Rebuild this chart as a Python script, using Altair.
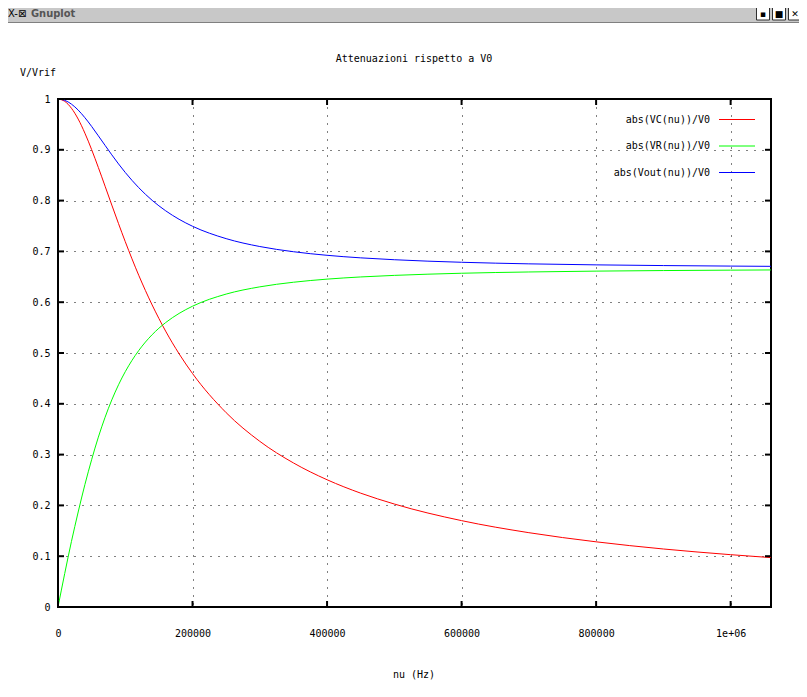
import altair as alt
import pandas as pd

# ---- data ----
nu = [0, 10000, 20000, 30000, 40000, 50000, 60000, 70000, 80000, 90000, 100000,
      120000, 140000, 160000, 180000, 200000, 250000, 300000, 350000, 400000,
      450000, 500000, 600000, 700000, 800000, 900000, 1000000, 1060000]
vc = [1.0, 0.9954, 0.9818, 0.9605, 0.9327, 0.9004, 0.8651, 0.8283, 0.7912, 0.7546, 0.7192,
      0.6531, 0.5945, 0.5431, 0.4985, 0.4596, 0.3825, 0.3261, 0.2836, 0.2505,
      0.2241, 0.2027, 0.1700, 0.1463, 0.1283, 0.1142, 0.1030, 0.0972]
vr = [0.0, 0.0660, 0.1290, 0.1870, 0.2410, 0.2900, 0.3344, 0.3735, 0.4077, 0.4375, 0.4632,
      0.5048, 0.5361, 0.5598, 0.5779, 0.5921, 0.6160, 0.6302, 0.6393, 0.6454,
      0.6497, 0.6528, 0.6570, 0.6595, 0.6612, 0.6623, 0.6631, 0.6635]
vout = [1.0, 0.9974, 0.9899, 0.9782, 0.9632, 0.9460, 0.9275, 0.9087, 0.8901, 0.8722, 0.8554,
        0.8255, 0.8005, 0.7800, 0.7632, 0.7495, 0.7251, 0.7096, 0.6994, 0.6923,
        0.6873, 0.6836, 0.6786, 0.6755, 0.6735, 0.6721, 0.6711, 0.6706]

series = ["abs(VC(nu))/V0", "abs(VR(nu))/V0", "abs(Vout(nu))/V0"]
colors = ["#ff0000", "#00ff00", "#0000ff"]
x_ticks = [0, 200000, 400000, 600000, 800000, 1000000]
y_ticks = [0, 0.1, 0.2, 0.3, 0.4, 0.5, 0.6, 0.7, 0.8, 0.9, 1]

title_text = "Attenuazioni rispetto a V0"
y_title = "V/Vrif"
x_title = "nu (Hz)"

rows = []
for s, vals in zip(series, [vc, vr, vout]):
    for n, v in zip(nu, vals):
        rows.append({"nu": n, "v": v, "series": s})
df = pd.DataFrame(rows)

W, H = 713, 508
FONT = "DejaVu Sans Mono"
xscale = alt.Scale(domain=[0, 1060000], nice=False, zero=False)
yscale = alt.Scale(domain=[0, 1], nice=False, zero=False)
cscale = alt.Scale(domain=series, range=colors)

lines = alt.Chart(df).mark_line(strokeWidth=1, interpolate="monotone", clip=True).encode(
    x=alt.X("nu:Q", scale=xscale, axis=alt.Axis(
        values=x_ticks, grid=True, gridDash=[1, 7], gridColor="black", gridOpacity=1,
        gridWidth=1, ticks=False, domain=False, labelFont=FONT, labelFontSize=10,
        labelColor="black", labelPadding=21, labelFlush=False, labelOverlap=False,
        labelExpr="datum.value == 1000000 ? '1e+06' : format(datum.value, 'd')",
        title=None)),
    y=alt.Y("v:Q", scale=yscale, axis=alt.Axis(
        values=y_ticks, grid=True, gridDash=[1, 7], gridColor="black", gridOpacity=1,
        gridWidth=1, ticks=False, domain=False, labelFont=FONT, labelFontSize=10,
        labelColor="black", labelPadding=8, format="~g", labelOverlap=False,
        title=None)),
    color=alt.Color("series:N", scale=cscale, legend=None),
)

xt = pd.DataFrame({"nu": x_ticks})
yt = pd.DataFrame({"v": y_ticks})
tick_bottom = alt.Chart(xt).mark_rule(color="black", strokeWidth=2).encode(
    x=alt.X("nu:Q", scale=xscale), y=alt.value(H), y2=alt.value(H - 6))
tick_top = alt.Chart(xt).mark_rule(color="black", strokeWidth=2).encode(
    x=alt.X("nu:Q", scale=xscale), y=alt.value(0), y2=alt.value(6))
tick_left = alt.Chart(yt).mark_rule(color="black", strokeWidth=2).encode(
    y=alt.Y("v:Q", scale=yscale, axis=None), x=alt.value(0), x2=alt.value(6))
tick_right = alt.Chart(yt).mark_rule(color="black", strokeWidth=2).encode(
    y=alt.Y("v:Q", scale=yscale, axis=None), x=alt.value(W), x2=alt.value(W - 6))

one = pd.DataFrame({"a": [0]})

# legend: one text + one sample line per series, rows 26.5 px apart
legend_layers = []
for i, (s, c) in enumerate(zip(series, colors)):
    ry = 20.5 + 26.5 * i
    legend_layers.append(alt.Chart(one).mark_text(
        align="right", baseline="middle", font=FONT, fontSize=10, color="black").encode(
        text=alt.value(s), x=alt.value(652), y=alt.value(ry)))
    legend_layers.append(alt.Chart(one).mark_rule(strokeWidth=1, color=c).encode(
        x=alt.value(661), x2=alt.value(697), y=alt.value(ry)))


def label(txt, x, y, align="center", **kw):
    return alt.Chart(one).mark_text(align=align, baseline="middle", font=FONT,
                                    fontSize=10, color="black", **kw).encode(
        text=alt.value(txt), x=alt.value(x), y=alt.value(y))

t_title = label(title_text, 356, -40)
t_ytitle = label(y_title, -38, -26, align="left")
t_xtitle = label(x_title, 356, 576)

# window decoration (title bar)
bar = alt.Chart(one).mark_rect(color="#c8c8c8").encode(
    x=alt.value(-58), x2=alt.value(741), y=alt.value(-99), y2=alt.value(-77))
bar_line = alt.Chart(one).mark_rule(color="#808080", strokeWidth=1).encode(
    x=alt.value(-58), x2=alt.value(741), y=alt.value(-76.5))
bar_x = alt.Chart(one).mark_text(align="left", baseline="middle", font="DejaVu Sans",
                                 fontSize=10, color="black").encode(
    text=alt.value("X-⊠"), x=alt.value(-50), y=alt.value(-85))
bar_t = alt.Chart(one).mark_text(align="left", baseline="middle", font="DejaVu Sans Condensed",
                                 fontSize=11, fontWeight="bold", color="#555555").encode(
    text=alt.value("Gnuplot"), x=alt.value(-27), y=alt.value(-85))

buttons = []
for glyph, bx in [("▪", 705), ("■", 721), ("✕", 737)]:
    buttons.append(alt.Chart(one).mark_rect(fill="white", stroke="#303030", strokeWidth=1).encode(
        x=alt.value(bx - 6.5), x2=alt.value(bx + 6.5), y=alt.value(-92), y2=alt.value(-79)))
    buttons.append(alt.Chart(one).mark_text(fontSize=9, color="black", baseline="middle",
                                            font="DejaVu Sans").encode(
        x=alt.value(bx), y=alt.value(-85.5), text=alt.value(glyph)))

chart = alt.layer(
    bar, bar_line, bar_x, bar_t, *buttons,
    lines, tick_bottom, tick_top, tick_left, tick_right,
    *legend_layers, t_title, t_ytitle, t_xtitle,
).resolve_scale(y="independent").properties(
    width=W, height=H,
    background="white",
    padding={"left": 50, "top": 91, "right": 28, "bottom": 82},
    autosize=alt.AutoSizeParams(type="none"),
).configure_view(stroke="black", strokeWidth=2)

chart.save("out.html", embed_options={"renderer": "svg", "actions": False})
